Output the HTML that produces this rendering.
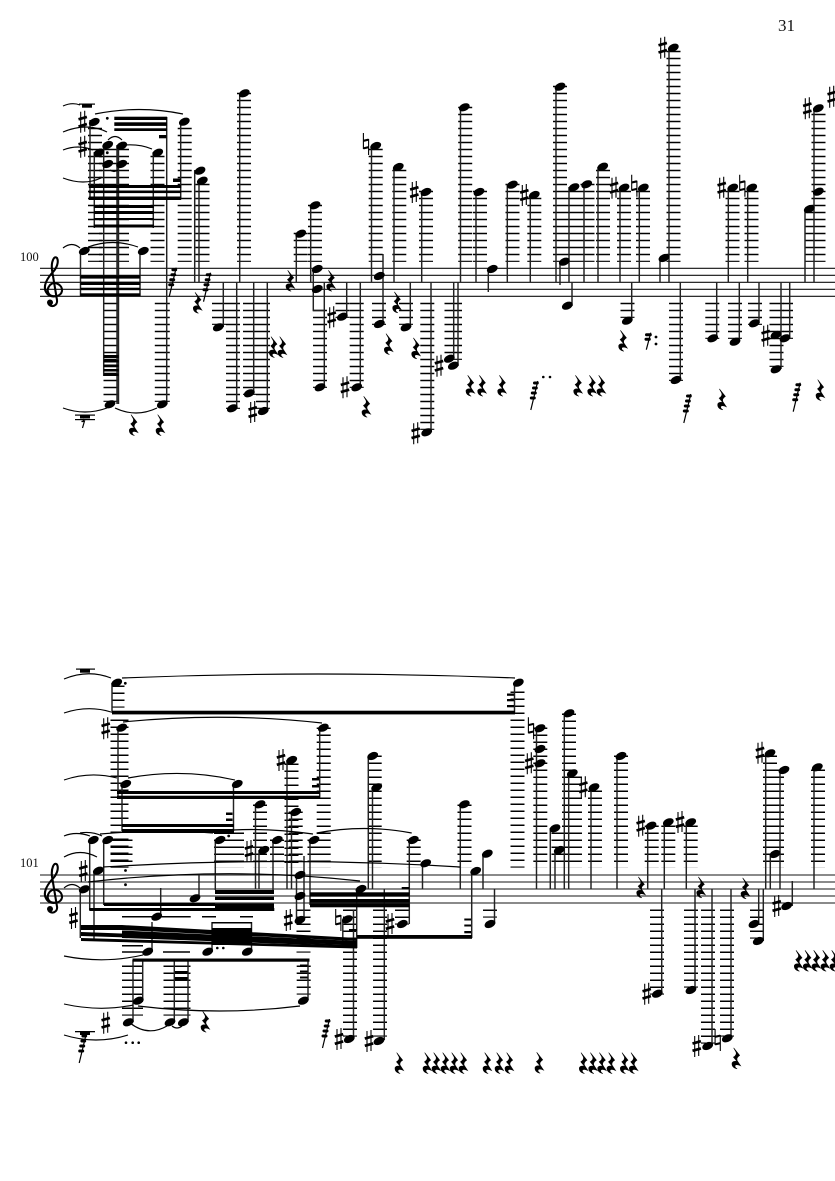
<!DOCTYPE html>
<html><head><meta charset="utf-8"><style>
html,body{margin:0;padding:0;background:#fff}
svg{display:block}
.s{stroke:#222;stroke-width:1.45;fill:none}
.k{stroke:#000;stroke-width:14;stroke-dasharray:1.5 5.5;fill:none}
.t{fill:none;stroke:#000;stroke-width:1.15}
.st{stroke:#111;stroke-width:1.1;fill:none}
text{font-family:"Liberation Serif",serif;fill:#111}
</style></head><body>
<svg width="835" height="1181" viewBox="0 0 835 1181" xmlns="http://www.w3.org/2000/svg">
<defs>
<ellipse id="n" rx="5.7" ry="3.7" transform="rotate(-24)" fill="#000"/>
<path id="r" fill="#000" stroke="#000" stroke-width=".5" transform="scale(1.15)" d="M-2-9 3.2-2.5Q0-.5 1 2L4 6.5Q.5 4.8-.8 6.2-1.4 7.8 1 9.2-4 8-3.4 4-2.4 2.2 1 2.8L-2.2-1Q1-3 0-5.5Z"/>
<g id="h" fill="none" stroke="#000"><path stroke-width="1.1" d="M-2-10V11M2-11V10"/><path stroke-width="2.7" d="M-4.200-2.400 4.200-4.800M-4.200 4.800 4.200 2.400"/></g>
<g id="a" fill="none" stroke="#000"><path stroke-width="1.1" d="M-2.600-11V5M2.600-5V11"/><path stroke-width="2.100" d="M-2.600-3.200 2.600-4.400M-2.600 4.400 2.600 3.200"/></g>
<g id="f"><path stroke="#000" stroke-width="1.2" d="M3.500-14-3.500 15"/><path stroke="#000" stroke-width="3" stroke-linecap="round" d="M.2-12H3M-.8-7H2M-2-2H1M-3 3H0"/></g>
<g id="g"><path stroke="#000" stroke-width="1.2" d="M2.500-8-2 9"/><path stroke="#000" stroke-width="3" stroke-linecap="round" d="M-1.800-6H2M-2.300-1.500H1"/></g>
<g id="c"><path fill="none" stroke="#000" stroke-width="2.100" d="M55 296C49 297 45 291 50 285C54 281 62.500 284 62 291C61 297 51 298 47.500 294C42 288 46 280 52 273C57 268 59 262 57 258C54 255 51 262 52 270L57 300C58 306 51 308 48.500 304"/><circle cx="50" cy="302.500" r="3"/></g>
</defs>
<text x="778" y="31" font-size="17">31</text>
<text x="20" y="261" font-size="12.500">100</text>
<text x="20" y="867" font-size="12.500">101</text>

<!-- SYSTEM 1 -->
<path class="st" d="M40 268.300H835M40 275.300H835M40 282.300H835M40 289.300H835M40 296.300H835"/>
<use href="#c"/>
<path class="k" d="M95 127.800V261.900"/>
<path class="k" style="stroke-width:30" d="M114 148.800V261.900"/>
<path class="k" d="M157.500 155.800V261.900M184.700 127.800V261.900M202.500 183.800V261.900M244 92.800V261.900M300.700 232.800V261.900M315 204.800V261.900M375.700 148.800V261.900M399.300 169.800V261.900M426 190.800V261.900M465.200 106.800V261.900M480 190.800V261.900M512.500 183.800V261.900M534.300 197.800V261.900M560 85.800V261.900M574 190.800V261.900M587.500 183.800V261.900M603 169.800V261.900M624 190.800V261.900M643 190.800V261.900M673.500 50.800V261.900M732.500 190.800V261.900M751.500 190.800V261.900M812 211.800V261.900M818.500 113.800V261.900"/>
<path class="k" style="stroke-width:15" d="M111 302.800V401.900M162.300 302.800V401.900"/>
<path class="k" d="M219 302.800V324.900M233 302.800V408.900M250 302.800V394.900M263 302.800V408.900M320 309.800V387.900M342.500 302.800V317.900M356.700 302.800V387.900M379 302.800V324.900M406 302.800V324.900M427.300 302.800V429.900M451.500 302.800V359.900M455 302.800V359.900M676 302.800V380.900M712.300 302.800V338.900M735 302.800V338.900M755 302.800V324.900M776.500 302.800V366.900M627.500 302.800V317.900"/>
<path class="k" style="stroke-width:10" d="M788 302.800V338.900"/>
<path class="s" d="M90 120V199M94.300 152V228M103.700 145V376M117 145V404M118.500 145V404M153.300 152V228M166.700 117V404M180.700 121V199M80.500 251V296M140 251V296M194.700 170V282M199 180V282M239.700 93V282M223.300 282V327M236.700 282V408M253.700 282V393M267.300 282V411"/>
<path class="s" d="M296.300 234V282M310.700 205V282M313.300 269V310.500H324.300M324.300 282V387M346.700 282V317M360.300 282V387M371.500 146V282M383 254V324M394 167V282M410.300 282V327M421.700 192V282M431 282V432M453.700 282V359M458 282V366M460.500 107V282M476 192V282M488.300 269V292M507.300 184V282M530.300 195V282M556 87V282M560 262V285M572 282V306M569 187V282M584 184V282M598 167V282M620 188V282M639.300 188V282M631.700 282V320M660 258V282M669 48V282M680.300 282V380M716.700 282V338M739.300 282V341M759 282V323M728.300 188V282M747.700 188V282M805 209V282M814 108V282M781 282V369M789.700 282V338"/>
<g>
<rect x="88.800" y="185" width="92.400" height="3"/><rect x="88.800" y="190.500" width="92.400" height="2.600"/><rect x="88.800" y="196.500" width="92.400" height="3.500"/>
<rect x="93.800" y="205" width="60" height="3"/><rect x="93.800" y="211" width="60" height="3"/><rect x="93.800" y="218" width="60" height="2"/><rect x="93.800" y="224.500" width="60" height="3"/>
<rect x="114.300" y="116.700" width="52.700" height="3.300"/><rect x="114.300" y="122.300" width="52.700" height="3.600"/><rect x="114.300" y="128.300" width="52.700" height="2.700"/>
<rect x="159" y="135" width="7.500" height="3.300"/><rect x="173" y="178.500" width="8" height="3.500"/>
<rect x="80.300" y="275.300" width="60" height="3.300"/><rect x="80.300" y="281.700" width="60" height="3.300"/><rect x="80.300" y="287.700" width="60" height="2.500"/><rect x="80.300" y="293.300" width="60" height="3.200"/>
<rect x="103.700" y="355" width="15" height="3"/><rect x="103.700" y="360" width="15" height="2.500"/><rect x="103.700" y="364.500" width="15" height="2.500"/><rect x="103.700" y="369" width="15" height="2.500"/><rect x="103.700" y="373.500" width="15" height="2.500"/>
<rect x="79" y="103.500" width="16" height="1.200"/><rect x="82" y="104.500" width="10" height="3.200"/>
<rect x="75" y="414.500" width="20" height="1.200"/><rect x="80" y="415.500" width="10" height="3"/><rect x="75" y="419" width="20" height="1.200"/>
<path d="M84 419 83 421.500H81.500L84.500 421 82.500 428" fill="none" stroke="#000" stroke-width="1.200"/>
</g>
<g>
<use href="#n" x="94.300" y="122"/><use href="#n" x="99" y="152.700"/><use href="#n" x="107.700" y="145"/><use href="#n" x="107.700" y="164"/><use href="#n" x="121.700" y="145.700"/><use href="#n" x="121.700" y="164"/><use href="#n" x="157.700" y="152.700"/><use href="#n" x="184.300" y="121.700"/><use href="#n" x="84.300" y="251"/><use href="#n" x="143.300" y="251"/><use href="#n" x="110" y="404.300"/><use href="#n" x="162.300" y="404.300"/><use href="#n" x="200" y="170.700"/><use href="#n" x="202.300" y="180.700"/><use href="#n" x="244.300" y="93.300"/><use href="#n" x="218.300" y="327.300"/><use href="#n" x="232.300" y="408.300"/><use href="#n" x="249.300" y="393.300"/><use href="#n" x="263.300" y="411"/>
<use href="#n" x="300.700" y="233.700"/><use href="#n" x="315" y="205.300"/><use href="#n" x="317.300" y="269"/><use href="#n" x="317.300" y="289"/><use href="#n" x="320" y="387.300"/><use href="#n" x="342.300" y="316.700"/><use href="#n" x="356.700" y="387.300"/><use href="#n" x="375.700" y="146"/><use href="#n" x="379.300" y="276"/><use href="#n" x="379.300" y="324"/><use href="#n" x="398.300" y="167"/><use href="#n" x="406" y="327.300"/><use href="#n" x="426" y="192"/><use href="#n" x="426.700" y="432.300"/><use href="#n" x="449.300" y="358.700"/><use href="#n" x="453.300" y="365.700"/><use href="#n" x="464.300" y="107.300"/><use href="#n" x="479" y="192"/><use href="#n" x="492.300" y="269"/><use href="#n" x="512.300" y="184.700"/><use href="#n" x="534.300" y="195"/>
<use href="#n" x="560" y="86.700"/><use href="#n" x="564.300" y="261.700"/><use href="#n" x="567.300" y="305.700"/><use href="#n" x="574" y="187.300"/><use href="#n" x="586.700" y="184.300"/><use href="#n" x="602.700" y="166.700"/><use href="#n" x="624" y="187.700"/><use href="#n" x="643.300" y="187.700"/><use href="#n" x="627.300" y="320.700"/><use href="#n" x="664" y="258"/><use href="#n" x="673.300" y="47.700"/><use href="#n" x="676" y="380"/><use href="#n" x="712.700" y="338.300"/><use href="#n" x="735" y="341.700"/><use href="#n" x="754.300" y="323.300"/><use href="#n" x="732.700" y="187.700"/><use href="#n" x="751.700" y="187.700"/><use href="#n" x="809.300" y="209"/><use href="#n" x="818.300" y="191.700"/><use href="#n" x="818.300" y="108.300"/><use href="#n" x="776" y="335"/><use href="#n" x="785" y="338.300"/><use href="#n" x="776" y="369.300"/>
</g>
<g>
<use href="#h" x="82.700" y="121.700"/><use href="#h" x="82.700" y="146.700"/><use href="#h" x="331.700" y="317.300"/><use href="#h" x="345" y="387.300"/><use href="#h" x="252.700" y="412"/><use href="#h" x="414.300" y="192"/><use href="#h" x="415.700" y="433.300"/><use href="#h" x="439" y="365.700"/><use href="#h" x="524.300" y="195"/><use href="#h" x="614" y="187.700"/><use href="#h" x="662.700" y="47.700"/><use href="#h" x="721.700" y="187.700"/><use href="#h" x="807.300" y="108.300"/><use href="#h" x="831.700" y="96.700"/><use href="#h" x="765.700" y="335.700"/>
<use href="#a" x="366" y="144"/><use href="#a" x="634.300" y="185.700"/><use href="#a" x="742.300" y="185.700"/>
</g>
<g>
<use href="#r" x="133.300" y="425"/><use href="#r" x="160" y="425"/><use href="#r" x="197.300" y="302.700"/><use href="#r" x="273.300" y="347"/><use href="#r" x="282" y="347"/><use href="#r" x="290" y="280.700"/><use href="#r" x="330.700" y="280.700"/><use href="#r" x="396.700" y="302.300"/><use href="#r" x="388.300" y="344"/><use href="#r" x="415.700" y="348.300"/><use href="#r" x="366" y="406.700"/><use href="#r" x="470" y="385.700"/><use href="#r" x="481.700" y="385.700"/><use href="#r" x="501.700" y="385.700"/><use href="#r" x="622.700" y="340.700"/><use href="#r" x="577.700" y="385.700"/><use href="#r" x="591.700" y="385.700"/><use href="#r" x="601" y="385.700"/><use href="#r" x="721.700" y="399.300"/><use href="#r" x="820" y="390"/>
<use href="#f" x="172.700" y="281.700"/><use href="#f" x="207" y="286.700"/><use href="#f" x="534.300" y="395"/><use href="#g" x="648.300" y="340.700"/><use href="#f" x="687.300" y="408"/><use href="#f" x="796.700" y="396.700"/>
<circle cx="543.300" cy="377" r="1.300"/><circle cx="550" cy="377" r="1.300"/><circle cx="656" cy="337" r="1.400"/><circle cx="656" cy="344" r="1.400"/><circle cx="107.300" cy="118.300" r="1.400"/><circle cx="107.300" cy="152.700" r="1.400"/>
</g>
<path class="t" d="M63 106Q72 102 80 105M95 114Q139 105 183 114M63 132Q87 122 107 132M63 150Q78 144 93 150M108 140Q115 133 122 140M125 145Q140 144 152 149M63 178Q84 186 101 178M63 248Q72 241 80 248M88 247Q113 238 138 247M63 408Q85 416 107 408M115 408Q136 418 157 408M110 170Q114 173 118 170"/>

<!-- SYSTEM 2 -->
<g fill="none" stroke="#444" stroke-width="1.300"><path d="M40 875H835M40 882H835M40 889H835M40 896H835M40 903H835"/></g>
<use href="#c" y="606.500"/>
<use href="#h" x="73.500" y="918"/>
<path class="k" style="stroke-width:13" d="M118 685.500V707.600"/>
<path class="k" style="stroke-width:18" d="M119.500 719.500V867.600"/>
<path class="k" style="stroke-width:22" d="M121.500 839.500V867.600"/>
<path class="k" style="stroke-width:30" d="M229 832.500V867.600"/>
<path class="k" d="M517.500 691.500V867.600M323.700 727.500V867.600M260 804.500V867.600M291.500 763.500V867.600M295.700 811.500V867.600M277 839.500V867.600M314.500 839.500V867.600M374.700 755.500V867.600M413.700 839.500V867.600M464.500 804.500V867.600M540.300 727.500V867.600M569 713.500V867.600M575 776.500V867.600M595 790.500V867.600M621 755.500V867.600M651.700 825.500V867.600M668.300 825.500V867.600M690.700 825.500V867.600M770 755.500V867.600M777 769.500V867.600M818 769.500V867.600M558.500 832.500V867.600"/>
<path class="k" d="M303.500 909.500V952.600M350 909.500V1036.600M380 909.500V1036.600M657 909.500V994.600M691 909.500V987.600M708 909.500V1043.600M727 909.500V1036.600M757 909.500V938.600M490 909.500V917.600M402 909.500V924.600"/>
<path class="k" style="stroke-width:21" d="M132.500 965.500V1015.600"/>
<path class="k" style="stroke-width:27" d="M177 965.500V1015.600"/>
<path class="k" d="M303.700 965.500V994.600"/>
<g fill="#000"><path d="M122 916H190.700V917.500H122ZM202 916H216V917.500H202ZM240 916H253V917.500H240ZM122 945H143V946.500H122ZM122 951.300H143V952.800H122ZM163 951.300H190V952.800H163Z"/></g>
<path class="s" d="M112 683V713M118 728V798M122 784V831M233.500 784V831M255.500 804V889M259 850V889M89.700 840V910M103.700 840V905M94 871V940M80.300 889V938M215.300 840V890M160.700 888V917M199 875V898M152 922V952M212 922V952M251.500 922V952M133 960V1022M142.700 960V1000M174.300 960V1022M188 960V1022M308 960V1000M353.500 910V1039M304 856V920M296.500 875V920M514.500 683V714M319.700 728V798M287 760V889M291.500 812V889M273 840V890M310 840V905M356.700 889V948M368.300 756V889M372.500 787V889M409.300 840V924M422.500 863V889M471.700 871V938M483 854V889M494.500 889V924M460.300 804V889M342.800 920V948M384.300 889V1040M536.500 728V889M550.300 828V889M555 850V889M564.300 713V889M568.700 773V889M591 787V889M617 756V889M647.700 826V889M664.300 822V889M686.300 822V889M661.700 889V994M695 889V990M712 889V1046M731 889V1038M758.700 889V924M763.300 889V941M765.700 753V889M770.300 854V889M780 770V889M792.300 881V906M814 767V889"/>
<g>
<rect x="112" y="710.700" width="403" height="3.700"/>
<rect x="117" y="791" width="203" height="3"/><rect x="117" y="795.700" width="203" height="3.300"/>
<rect x="122" y="824" width="112" height="3"/><rect x="122" y="829" width="112" height="4"/>
<rect x="507" y="693.500" width="7" height="2.300"/><rect x="507" y="699" width="7" height="2.300"/><rect x="507" y="705" width="7" height="2.300"/>
<rect x="312" y="778" width="7" height="2.500"/><rect x="312" y="785" width="7" height="2.500"/>
<rect x="226" y="812.500" width="6.500" height="2.500"/><rect x="226" y="818.500" width="6.500" height="2.500"/>
<rect x="215" y="890" width="59" height="4"/><rect x="215" y="896.700" width="59" height="3.300"/><rect x="215" y="903.500" width="59" height="6.500"/>
<rect x="89.300" y="908" width="185" height="3"/><rect x="104" y="903" width="111" height="3"/>
<path d="M81 925H122L357 938V941L122 930H81ZM81 932 357 942.500V945L81 936ZM81 938 357 946V948.500L81 941Z"/>
<path d="M122 930.500 357 941V943L122 934ZM122 936 357 945V946.500L122 938Z"/>
<rect x="212" y="922" width="40" height="1.500"/><rect x="212" y="928" width="40" height="17"/>
<rect x="132.500" y="958.500" width="177" height="3.200"/>
<rect x="175" y="971" width="12.500" height="2"/><rect x="175" y="977" width="12.500" height="2.500"/>
<rect x="300" y="964.500" width="7.500" height="1.800"/><rect x="300" y="970.500" width="7.500" height="1.800"/><rect x="300" y="976.500" width="7.500" height="2"/>
<rect x="310" y="892.300" width="99.500" height="4.300"/><rect x="310" y="899" width="99.500" height="3.700"/><rect x="310" y="903.300" width="99.500" height="4"/>
<rect x="401.700" y="887" width="7.500" height="2.200"/>
<rect x="357" y="935" width="115" height="3.800"/>
<rect x="464.300" y="918.500" width="6.700" height="2"/><rect x="464.300" y="924.500" width="6.700" height="2"/><rect x="464.300" y="931" width="6.700" height="2.300"/>
<rect x="349" y="929" width="8" height="2"/>
<rect x="76" y="668.500" width="19" height="1.200"/><rect x="80" y="669.500" width="10" height="3.200"/>
<rect x="75" y="1031" width="20" height="1.300"/><rect x="80" y="1032" width="10" height="3"/>
</g>
<g>
<use href="#n" x="116.700" y="682.700"/><use href="#n" x="121.700" y="727.700"/><use href="#n" x="125.700" y="784"/><use href="#n" x="237.300" y="784"/><use href="#n" x="260" y="804.300"/><use href="#n" x="264" y="850"/><use href="#n" x="93.300" y="840"/><use href="#n" x="107.700" y="840"/><use href="#n" x="98.300" y="870.700"/><use href="#n" x="84.300" y="889.300"/><use href="#n" x="220" y="840"/><use href="#n" x="156.700" y="916.700"/><use href="#n" x="195" y="898.300"/><use href="#n" x="147.700" y="951.700"/><use href="#n" x="207.700" y="951.700"/><use href="#n" x="247.300" y="951.700"/><use href="#n" x="128.300" y="1022.300"/><use href="#n" x="138.300" y="1000.700"/><use href="#n" x="170" y="1022.300"/><use href="#n" x="183.300" y="1022.300"/><use href="#n" x="303.300" y="1000.700"/><use href="#n" x="349.300" y="1039"/>
<use href="#n" x="300" y="875"/><use href="#n" x="300" y="896"/><use href="#n" x="300" y="920"/><use href="#n" x="518.300" y="682.700"/><use href="#n" x="323.300" y="727.700"/><use href="#n" x="291.700" y="760"/><use href="#n" x="295.700" y="812"/><use href="#n" x="277.300" y="840"/><use href="#n" x="314" y="840"/><use href="#n" x="361" y="889"/><use href="#n" x="372.700" y="756"/><use href="#n" x="376.700" y="787.300"/><use href="#n" x="413.300" y="840"/><use href="#n" x="402.300" y="924"/><use href="#n" x="425.700" y="863.300"/><use href="#n" x="475.700" y="871"/><use href="#n" x="487.300" y="853.700"/><use href="#n" x="490" y="924"/><use href="#n" x="464.300" y="804.300"/><use href="#n" x="347.300" y="919.300"/><use href="#n" x="379" y="1041"/>
<use href="#n" x="540" y="728.300"/><use href="#n" x="540" y="749"/><use href="#n" x="540" y="763.300"/><use href="#n" x="555" y="828.300"/><use href="#n" x="559.300" y="850"/><use href="#n" x="569" y="713.300"/><use href="#n" x="572.300" y="773.300"/><use href="#n" x="594" y="787.300"/><use href="#n" x="621" y="756"/><use href="#n" x="651" y="825.700"/><use href="#n" x="668.300" y="822.300"/><use href="#n" x="690.700" y="822.300"/><use href="#n" x="657.300" y="993.700"/><use href="#n" x="691" y="990"/><use href="#n" x="707.700" y="1046"/><use href="#n" x="727.300" y="1038.300"/><use href="#n" x="754" y="924"/><use href="#n" x="758.300" y="941"/><use href="#n" x="770" y="753.300"/><use href="#n" x="775" y="854"/><use href="#n" x="784" y="770"/><use href="#n" x="786.700" y="906"/><use href="#n" x="817.300" y="767.300"/>
</g>
<g>
<use href="#h" x="105.700" y="728.300"/><use href="#h" x="83.300" y="871"/><use href="#h" x="249" y="851"/><use href="#h" x="105.700" y="1022.700"/><use href="#h" x="339" y="1039"/><use href="#h" x="288.300" y="920"/><use href="#h" x="281" y="760"/><use href="#h" x="390" y="924"/><use href="#h" x="369" y="1041"/><use href="#h" x="529.300" y="763.300"/><use href="#h" x="583.300" y="787.300"/><use href="#h" x="640.700" y="825.700"/><use href="#h" x="680" y="822"/><use href="#h" x="646.700" y="993.700"/><use href="#h" x="696.700" y="1046"/><use href="#h" x="760" y="752.700"/><use href="#h" x="776.700" y="906"/>
<use href="#a" x="338.300" y="920"/><use href="#a" x="531" y="728.300"/><use href="#a" x="717.700" y="1040"/>
</g>
<g>
<use href="#r" x="205" y="1021.700"/><use href="#r" x="399" y="1063"/><use href="#r" x="427" y="1063"/><use href="#r" x="436" y="1063"/><use href="#r" x="445" y="1063"/><use href="#r" x="454" y="1063"/><use href="#r" x="463" y="1063"/><use href="#r" x="487" y="1063"/><use href="#r" x="499" y="1063"/><use href="#r" x="509" y="1063"/><use href="#r" x="539" y="1062.700"/><use href="#r" x="583.300" y="1063"/><use href="#r" x="592.700" y="1063"/><use href="#r" x="601.700" y="1063"/><use href="#r" x="611" y="1063"/><use href="#r" x="624.300" y="1063"/><use href="#r" x="633.300" y="1063"/><use href="#r" x="736" y="1058.300"/><use href="#r" x="640.700" y="887.300"/><use href="#r" x="700.700" y="887.300"/><use href="#r" x="745" y="888.300"/><use href="#r" x="798.300" y="960.700"/><use href="#r" x="807.300" y="960.700"/><use href="#r" x="816" y="960.700"/><use href="#r" x="825" y="960.700"/><use href="#r" x="834" y="960.700"/>
<use href="#f" x="82.700" y="1048"/><use href="#f" x="326" y="1033"/>
<circle cx="125.300" cy="683.300" r="1.400"/><circle cx="228.700" cy="836" r="1.400"/><circle cx="125.500" cy="870.500" r="1.400"/><circle cx="125.500" cy="884.700" r="1.400"/><circle cx="217.300" cy="948" r="1.300"/><circle cx="223.300" cy="948" r="1.300"/><circle cx="126" cy="1042.700" r="1.300"/><circle cx="132.700" cy="1042.700" r="1.300"/><circle cx="138.700" cy="1042.700" r="1.300"/>
</g>
<path class="t" d="M64 679Q88 669 111 678M64 713Q88 705 111 712M122 678Q318 670 515 678M123 722Q222 712 322 723M64 780Q90 771 117 778M128 778Q182 768 235 780M64 836Q76 831 90 836M80 833Q92 831 102 836M100 834Q158 829 213 833M233 830Q270 828 313 834M316.700 833Q364 824 411.700 833M64 857Q80 848 97 857M64 888Q72 881 80 888M103 867Q282 856 460 867M88 882Q226 866 360 881M64 956Q104 964 143 955M64 1004Q100 1012 133 1005M138 1006Q220 1016 300 1006M64 1035Q96 1045 128 1035M130 1023Q148 1037 167 1026M172 1026Q177 1030 182 1026"/>
</svg>
</body></html>
